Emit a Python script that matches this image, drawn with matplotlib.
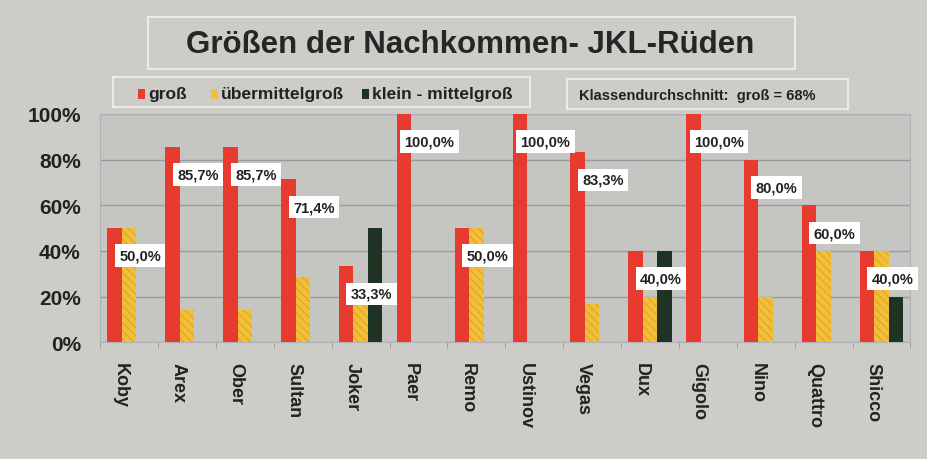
import numpy as np
import matplotlib.pyplot as plt
from matplotlib.patches import Rectangle

plt.rcParams['font.family'] = ['Liberation Sans', 'DejaVu Sans']

# Data
names = ['Koby', 'Arex', 'Ober', 'Sultan', 'Joker', 'Paer', 'Remo', 'Ustinov',
         'Vegas', 'Dux', 'Gigolo', 'Nino', 'Quattro', 'Shicco']
gross = [50.0, 85.7, 85.7, 71.4, 33.3, 100.0, 50.0, 100.0, 83.3, 40.0, 100.0, 80.0, 60.0, 40.0]
uebermittel = [50.0, 14.3, 14.3, 28.6, 16.7, 0, 50.0, 0, 16.7, 20.0, 0, 20.0, 40.0, 40.0]
klein = [0, 0, 0, 0, 50.0, 0, 0, 0, 0, 40.0, 0, 0, 0, 20.0]
series_names = ['groß', 'übermittelgroß', 'klein - mittelgroß']
colors = ['#e63b2e', '#f2c037', '#1e3324']

fig = plt.figure(figsize=(9.28, 4.6), dpi=100, facecolor='#cdccc7')
ax = fig.add_axes([0.108, 0.254, 0.873, 0.496])
ax.set_facecolor('#c5c5c1')

x = np.arange(len(names))
w = 0.25
ax.bar(x - w, np.array(gross) / 100, w, color=colors[0], zorder=3)
ax.bar(x, np.array(uebermittel) / 100, w, color=colors[1], zorder=3,
       hatch='\\\\\\\\', edgecolor='#e0a830', linewidth=0)
ax.bar(x + w, np.array(klein) / 100, w, color=colors[2], zorder=3)

for xi, v in zip(x, gross):
    ax.annotate(f'{v:.1f}%'.replace('.', ','), (xi + 0.19, v / 100),
                xytext=(0, -20), textcoords='offset points', ha='center', va='center',
                fontsize=10.5, fontweight='bold', color='#222222', zorder=5,
                bbox=dict(boxstyle='square,pad=0.3', fc='white', ec='none'))

ax.set_xlim(-0.5, len(names) - 0.5)
ax.set_ylim(0, 1.0)
ax.set_yticks(np.arange(0, 1.01, 0.2))
ax.set_yticklabels([f'{int(t * 100)}%' for t in np.arange(0, 1.01, 0.2)],
                   fontsize=15, fontweight='bold', color='#222222')
ax.set_xticks(x - 0.15)
ax.set_xticklabels(names, rotation=270, fontsize=13, fontweight='bold', color='#222222')
ax.set_xticks(np.arange(-0.5, len(names), 1), minor=True)
ax.tick_params(axis='x', which='major', length=0, pad=14)
ax.tick_params(axis='x', which='minor', length=4, color='#999999')
ax.tick_params(axis='y', length=0, pad=14)
ax.grid(axis='y', color='#9a9aa0', linewidth=1, zorder=1)
for s in ax.spines.values():
    s.set_color('#b0b0b8')

# title box
fig.patches.append(Rectangle((148 / 928, 1 - 70 / 460), 647 / 928, 52 / 460,
                             transform=fig.transFigure, fc='#cdccc7', ec='#ecebe6', lw=1.5))
fig.text(470 / 928, 1 - 45 / 460, 'Größen der Nachkommen- JKL-Rüden', ha='center', va='center',
         fontsize=22.5, fontweight='bold', color='#262626')

# legend box
fig.patches.append(Rectangle((113 / 928, 1 - 108 / 460), 417 / 928, 30 / 460,
                             transform=fig.transFigure, fc='#cdccc7', ec='#ecebe6', lw=1.5))
leg_x = [138, 211, 362]
for lx, name, col in zip(leg_x, series_names, colors):
    fig.patches.append(Rectangle((lx / 928, 1 - 100 / 460), 7 / 928, 10 / 460,
                                 transform=fig.transFigure, fc=col, ec='none'))
    fig.text((lx + 10) / 928, 1 - 94 / 460, name, ha='left', va='center',
             fontsize=12.5, fontweight='bold', color='#222222')

# class average box
fig.patches.append(Rectangle((567 / 928, 1 - 110 / 460), 281 / 928, 30 / 460,
                             transform=fig.transFigure, fc='#cdccc7', ec='#ecebe6', lw=1.5))
fig.text(697 / 928, 1 - 96 / 460, 'Klassendurchschnitt:  groß = 68%', ha='center', va='center',
         fontsize=10.5, fontweight='bold', color='#222222')

fig.savefig('out.png', dpi=100, facecolor=fig.get_facecolor())
